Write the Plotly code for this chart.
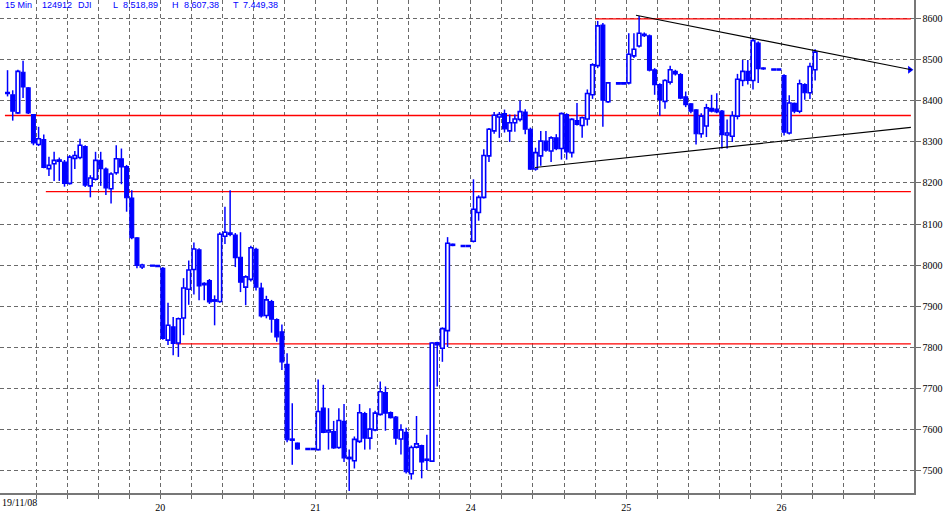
import plotly.graph_objects as go

# 15-minute candles, DJI, 19/11/08 - 26/11/08 (None = no bar in that slot)
opens = [8421, 8415, 8371, 8470, 8432, 8367, 8294, 8306, 8235, 8247,
         8253, 8251, 8199, 8260, 8262, 8289, 8193, 8209, 8255, 8234,
         8186, 8225, 8259, 8240, 8163, 8066, 7995, None, 8000, 7999,
         7992, 7817, 7849, 7810, 7871, 7941, 7989, 8037, 7952, 7962,
         7912, 7911, 8070, 8075, 8073, 8019, 7946, 7965, 8038, 7944,
         7877, 7911, 7867, 7837, 7758, 7573, 7566, None, 7553, 7553,
         7550, 7651, 7593, 7594, 7555, 7619, 7528, 7523, 7570, 7638,
         7578, 7598, 7636, 7689, 7640, 7629, 7576, 7592, 7491, 7556,
         7560, 7524, 7522, 7811, 7797, 7840, 8048, None, 8048, 8048,
         8058, 8128, 8165, 8266, 8327, 8361, 8369, 8327, 8347, 8355,
         8373, 8331, 8234, 8266, 8302, 8278, 8310, 8284, 8367, 8274,
         8352, 8340, 8356, 8415, 8486, 8585, 8398, None, 8445, 8445,
         8444, 8510, 8534, 8563, 8559, 8476, 8440, 8399, 8446, 8472,
         8464, 8410, 8393, 8378, 8320, 8339, 8382, 8380, 8375, 8317,
         8314, 8363, 8450, 8472, 8450, 8541, 8480, None, 8478, 8478,
         8462, 8322, 8394, 8375, 8440, 8420, 8476]
highs = [8475, 8426, 8476, 8498, 8434, 8368, 8337, 8318, 8264, 8276,
         8262, 8256, 8268, 8278, 8308, 8292, 8219, 8276, 8276, 8238,
         8226, 8292, 8284, 8244, 8182, 8068, 8003, None, 8000, 7999,
         7995, 7908, 7873, 7872, 7968, 8011, 8055, 8041, 7958, 7966,
         7926, 8080, 8142, 8182, 8078, 8080, 7975, 8047, 8042, 7957,
         7925, 7915, 7870, 7855, 7785, 7663, 7567, None, 7554, 7554,
         7721, 7708, 7651, 7620, 7651, 7661, 7550, 7582, 7661, 7642,
         7651, 7645, 7716, 7704, 7643, 7632, 7612, 7603, 7560, 7632,
         7562, 7586, 7812, 7813, 7848, 8068, 8052, None, 8048, 8048,
         8209, 8170, 8282, 8334, 8373, 8373, 8379, 8367, 8367, 8401,
         8380, 8335, 8286, 8327, 8327, 8314, 8319, 8372, 8370, 8358,
         8395, 8362, 8428, 8492, 8595, 8590, 8446, None, 8445, 8445,
         8565, 8565, 8607, 8567, 8562, 8480, 8443, 8453, 8486, 8476,
         8468, 8423, 8395, 8380, 8370, 8393, 8415, 8419, 8378, 8355,
         8375, 8466, 8500, 8500, 8553, 8545, 8482, None, 8478, 8478,
         8465, 8414, 8396, 8452, 8443, 8493, 8526]
lows = [8411, 8352, 8368, 8407, 8368, 8292, 8290, 8236, 8217, 8205,
        8205, 8191, 8196, 8234, 8258, 8190, 8165, 8206, 8193, 8171,
        8150, 8220, 8197, 8130, 8063, 7992, 7990, None, 7997, 7996,
        7818, 7805, 7780, 7776, 7829, 7903, 7928, 7914, 7914, 7905,
        7853, 7908, 8051, 8070, 7995, 7934, 7902, 7960, 7938, 7872,
        7870, 7835, 7813, 7744, 7568, 7513, 7550, None, 7550, 7550,
        7548, 7590, 7550, 7552, 7552, 7520, 7449, 7504, 7566, 7550,
        7550, 7595, 7633, 7596, 7626, 7562, 7538, 7492, 7477, 7553,
        7480, 7500, 7520, 7704, 7764, 7800, 8046, None, 8045, 8045,
        8055, 8108, 8162, 8251, 8320, 8310, 8323, 8300, 8325, 8350,
        8319, 8232, 8230, 8242, 8276, 8251, 8280, 8257, 8257, 8262,
        8340, 8310, 8340, 8405, 8480, 8337, 8395, None, 8441, 8441,
        8440, 8505, 8530, 8556, 8472, 8415, 8364, 8381, 8440, 8462,
        8404, 8385, 8370, 8294, 8310, 8312, 8372, 8370, 8284, 8284,
        8300, 8355, 8436, 8440, 8428, 8444, 8476, None, 8475, 8475,
        8316, 8318, 8370, 8370, 8403, 8405, 8450]
closes = [8418, 8375, 8472, 8434, 8371, 8298, 8308, 8238, 8243, 8255,
          8256, 8199, 8263, 8267, 8292, 8195, 8212, 8255, 8235, 8188,
          8222, 8259, 8239, 8164, 8067, 7999, 8000, None, 7997, 7996,
          7821, 7853, 7809, 7869, 7944, 7988, 8039, 7949, 7955, 7910,
          7915, 8075, 8080, 8078, 8018, 7958, 7971, 8042, 7946, 7876,
          7915, 7868, 7825, 7764, 7574, 7575, 7552, None, 7550, 7550,
          7643, 7592, 7597, 7554, 7621, 7530, 7531, 7575, 7640, 7578,
          7600, 7639, 7691, 7639, 7628, 7578, 7598, 7496, 7555, 7564,
          7520, 7526, 7810, 7805, 7845, 8053, 8050, None, 8045, 8045,
          8136, 8165, 8267, 8331, 8365, 8367, 8332, 8347, 8356, 8374,
          8331, 8234, 8274, 8302, 8280, 8310, 8284, 8369, 8276, 8355,
          8343, 8359, 8418, 8488, 8583, 8402, 8444, None, 8441, 8441,
          8514, 8526, 8565, 8559, 8475, 8440, 8403, 8450, 8476, 8466,
          8407, 8391, 8375, 8320, 8363, 8383, 8375, 8373, 8318, 8322,
          8364, 8453, 8472, 8450, 8547, 8479, 8478, None, 8475, 8475,
          8324, 8395, 8375, 8442, 8420, 8484, 8519]

day_labels = ["19/11/08", "20", "21", "24", "25", "26"]
price_ticks = [7500, 7600, 7700, 7800, 7900, 8000, 8100, 8200, 8300, 8400, 8500, 8600]
support_levels = [8600, 8364.5, 8179, 7808]
support_starts = [113.5, -0.5, 7.4, 32.5]
trend_upper = [(121.4, 8609), (174.6, 8476)]
trend_lower = [(101.9, 8237.6), (174.5, 8335.5)]
header = [("15 Min", 3), ("124912", 40), ("DJI", 76), ("L", 111), ("8.518,89", 121),
          ("H", 170), ("8.607,38", 182), ("T", 231), ("7.449,38", 241)]

BLUE = "#0000ff"
MINBODY = 2.5

inc_x, inc_base, inc_h = [], [], []
dec_x, dec_base, dec_h = [], [], []
wick_x, wick_y = [], []
for i, (o, h, l, c) in enumerate(zip(opens, highs, lows, closes)):
    if o is None:
        continue
    top, bot = max(o, c), min(o, c)
    body = max(top - bot, MINBODY)
    if c > o:
        inc_x.append(i); inc_base.append(bot); inc_h.append(body)
    else:
        dec_x.append(i); dec_base.append(bot); dec_h.append(body)
    if h > bot + body:
        wick_x += [i, i, None]; wick_y += [h, bot + body, None]
    if l < bot:
        wick_x += [i, i, None]; wick_y += [bot, l, None]

fig = go.Figure()
fig.add_trace(go.Bar(x=dec_x, y=dec_h, base=dec_base, width=0.74,
                     marker=dict(color=BLUE, line=dict(color=BLUE, width=1.2)),
                     hoverinfo="skip", showlegend=False))
fig.add_trace(go.Bar(x=inc_x, y=inc_h, base=inc_base, width=0.7,
                     marker=dict(color="white", line=dict(color=BLUE, width=1.6)),
                     hoverinfo="skip", showlegend=False))
fig.add_trace(go.Scatter(x=wick_x, y=wick_y, mode="lines",
                         line=dict(color=BLUE, width=1.5),
                         hoverinfo="skip", showlegend=False))
# arrow head at end of upper trend line
fig.add_trace(go.Scatter(x=[trend_upper[1][0] - 0.3], y=[trend_upper[1][1]], mode="markers",
                         marker=dict(symbol="triangle-right", size=7, color=BLUE),
                         hoverinfo="skip", showlegend=False))

shapes = []
for lvl, x0 in zip(support_levels, support_starts):
    shapes.append(dict(type="line", xref="x", yref="y", x0=x0, x1=174.5, y0=lvl, y1=lvl,
                       line=dict(color="#ff0000", width=1.3), layer="between"))
for (a, b) in (trend_upper, trend_lower):
    shapes.append(dict(type="line", xref="x", yref="y", x0=a[0], y0=a[1], x1=b[0], y1=b[1],
                       line=dict(color="black", width=1.1), layer="above"))

annotations = []
for txt, px in header:
    annotations.append(dict(text=txt, xref="paper", yref="paper", x=px / 914, y=1 - 5.5 / 495,
                            xanchor="left", yanchor="middle", showarrow=False,
                            font=dict(family="Liberation Sans, Arial", size=9, color=BLUE)))
annotations.append(dict(text=day_labels[0], xref="paper", yref="paper", x=0, y=1 - 504.5 / 495,
                        xanchor="left", yanchor="middle", showarrow=False,
                        font=dict(family="Liberation Serif", size=10, color="black")))

gridvals = [-0.5 + 6 * k for k in range(1, 29)]
gridtext = []
for k in range(1, 29):
    gridtext.append(day_labels[k // 5] if k % 5 == 0 else "")

GRID = "#6a6a6a"
fig.update_layout(
    width=945, height=513,
    margin=dict(l=0, r=31, t=0, b=18),
    paper_bgcolor="white", plot_bgcolor="white",
    barmode="overlay", bargap=0,
    shapes=shapes, annotations=annotations,
    xaxis=dict(range=[-1.455, 175.1], tickmode="array", tickvals=gridvals, ticktext=gridtext,
               showgrid=True, gridcolor=GRID, gridwidth=1, griddash="4px,3px",
               ticks="outside", ticklen=4, tickcolor=GRID, tickwidth=1,
               showline=True, linecolor="#777777", linewidth=1.5, zeroline=False,
               tickfont=dict(family="Liberation Serif", size=10, color="black")),
    yaxis=dict(range=[7444.2, 8646.1], side="right", tickmode="array", tickvals=price_ticks,
               ticktext=[str(v) for v in price_ticks],
               showgrid=True, gridcolor=GRID, gridwidth=1, griddash="4px,3px",
               ticks="outside", ticklen=5, tickcolor=GRID, tickwidth=1,
               showline=True, linecolor="#777777", linewidth=1.5, zeroline=False,
               tickfont=dict(family="Liberation Serif", size=10, color="black")),
)

fig.write_html("out.html",
               config={"displayModeBar": False, "staticPlot": True},
               post_script="document.body.style.margin='0px';document.body.style.overflow='hidden';")
